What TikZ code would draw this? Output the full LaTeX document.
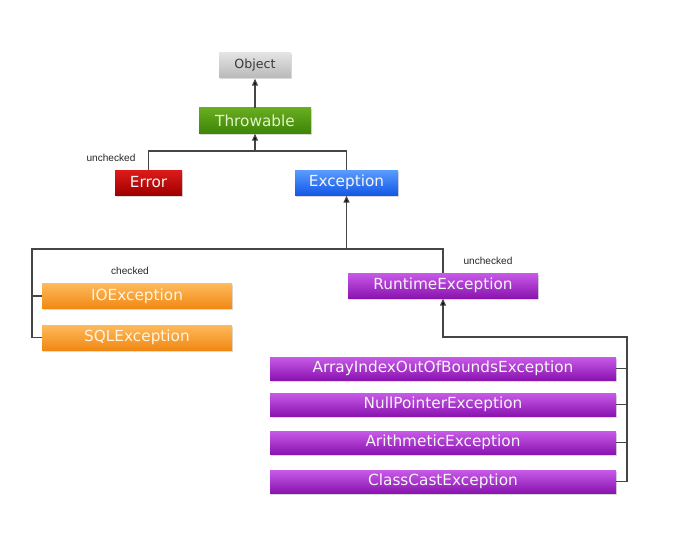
\documentclass[tikz,border=0pt]{standalone}
\usepackage{fontspec}
\setmainfont{DejaVu Sans}
\newfontfamily\labelfont{Liberation Sans}
\usetikzlibrary{shadows,arrows.meta}

\definecolor{linegray}{HTML}{454545}

\tikzset{
  cls/.style={rectangle, inner sep=0pt, minimum height=25pt, font=\fontsize{15.3}{17}\selectfont,
    text=white!96!black, drop shadow={shadow xshift=1.2pt, shadow yshift=-1.5pt, opacity=0.28}},
  objcls/.style={cls, top color=gray!22, bottom color=gray!55, text=black!78, font=\fontsize{12.6}{14}\selectfont},
  thrcls/.style={cls, top color={rgb,255:red,104;green,172;blue,32}, bottom color={rgb,255:red,62;green,134;blue,8}, text={rgb,255:red,226;green,244;blue,196}},
  errcls/.style={cls, top color={rgb,255:red,222;green,26;blue,26}, bottom color={rgb,255:red,160;green,0;blue,0}},
  exccls/.style={cls, top color={rgb,255:red,90;green,156;blue,255}, bottom color={rgb,255:red,20;green,88;blue,230}},
  chkcls/.style={cls, top color={rgb,255:red,255;green,186;blue,92}, bottom color={rgb,255:red,240;green,136;blue,20}, text={rgb,255:red,255;green,244;blue,222}},
  rtcls/.style={cls, top color={rgb,255:red,200;green,90;blue,232}, bottom color={rgb,255:red,138;green,20;blue,176}},
  link/.style={draw=linegray, line width=1.2pt},
  inherit/.style={link, -{Triangle[length=7pt,width=6pt,fill=black]}, shorten >=0.5pt},
  tag/.style={font=\labelfont\fontsize{10.1}{12}\selectfont, text=black!85}
}

\begin{document}
\begin{tikzpicture}[x=1pt,y=-1pt]
  \path[use as bounding box, fill=white] (0,0) rectangle (678,543);

  % class boxes
  \node[objcls, minimum width=72pt]  (obj) at (255,65.5)  {Object};
  \node[thrcls, minimum width=112pt] (thr) at (255,120.5) {Throwable};
  \node[errcls, minimum width=67pt]  (err) at (148.5,182.5) {Error};
  \node[exccls, minimum width=103pt] (exc) at (346.5,182.5) {Exception};

  \node[chkcls, minimum width=190pt] (io)  at (137,296)   {IOException};
  \node[chkcls, minimum width=190pt] (sql) at (137,337.5) {SQLException};
  \node[rtcls, minimum width=190pt]  (rt)  at (443,285.5) {RuntimeException};

  \node[rtcls, minimum width=346pt, minimum height=23pt] (aio) at (443,368.5) {ArrayIndexOutOfBoundsException};
  \node[rtcls, minimum width=346pt, minimum height=23pt] (npe) at (443,404.5) {NullPointerException};
  \node[rtcls, minimum width=346pt, minimum height=23pt] (ari) at (443,442.5) {ArithmeticException};
  \node[rtcls, minimum width=346pt, minimum height=23pt] (cce) at (443,481.5) {ClassCastException};

  % labels
  \node[tag] (lerr) at (111,158)   {unchecked};
  \node[tag] (lchk) at (130,271)   {checked};
  \node[tag] (lrt)  at (488,260.5) {unchecked};

  % junction points
  \coordinate (tj) at (255,151);
  \coordinate (lc) at (32,249);
  \coordinate (rj) at (627,337);

  % Object <- Throwable
  \draw[inherit] (thr) -- (obj);

  % Throwable <- Error, Exception
  \draw[link] (err.north) |- (tj) -| (exc.north);
  \draw[inherit] (tj) -- (thr.south);

  % Exception <- IOException, SQLException, RuntimeException
  \draw[link] (io.west) -| (lc) -| (rt.north);
  \draw[link] (sql.west) -| (lc);
  \draw[inherit] (exc.south |- lc) -- (exc.south);

  % RuntimeException <- its subclasses
  \draw[link] (aio.east) -- (aio.east -| rj);
  \draw[link] (npe.east) -- (npe.east -| rj);
  \draw[link] (ari.east) -- (ari.east -| rj);
  \draw[inherit] (cce.east) -| (rj) -| (rt.south);
\end{tikzpicture}
\end{document}
